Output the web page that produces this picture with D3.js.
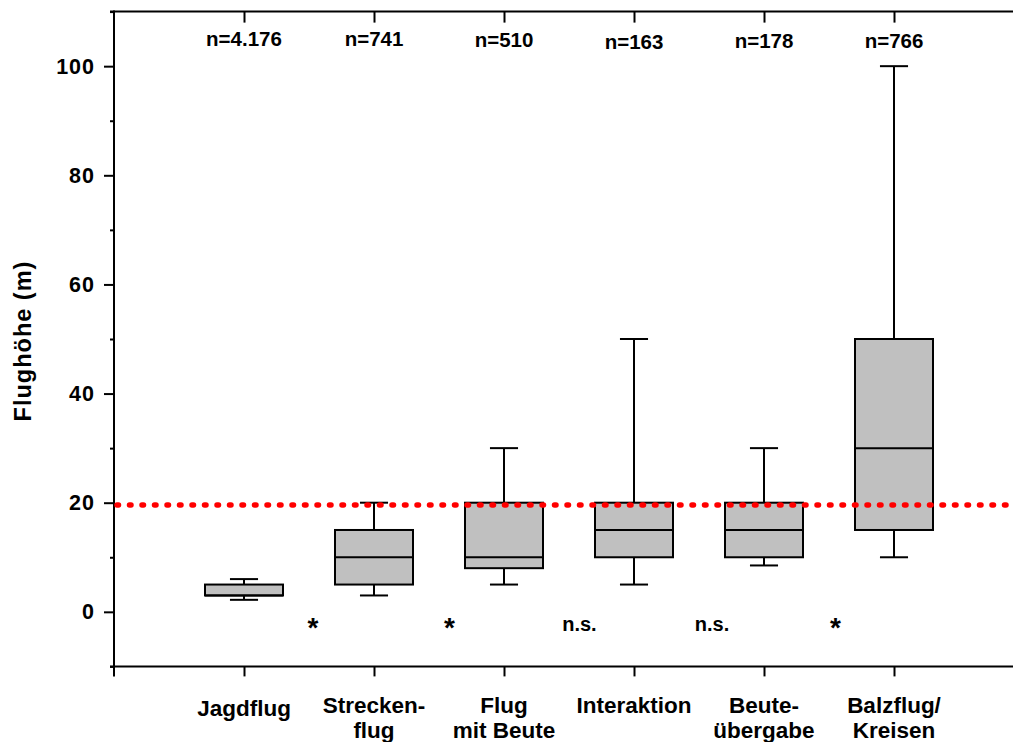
<!DOCTYPE html>
<html><head><meta charset="utf-8">
<script src="https://cdn.jsdelivr.net/npm/d3@7"></script>
<style>
html,body{margin:0;padding:0;background:#fff;}
svg text{font-family:Arial,"Liberation Sans",sans-serif;font-weight:bold;fill:#000;}
</style></head>
<body>
<svg id="c" width="1013" height="742"></svg>
<script>
const categories = [["Jagdflug"],["Strecken-","flug"],["Flug","mit Beute"],["Interaktion"],["Beute-","übergabe"],["Balzflug/","Kreisen"]];
const nLabels = ["n=4.176","n=741","n=510","n=163","n=178","n=766"];
const whiskerLow = [2.2, 3, 5, 5, 8.5, 10];
const q1 = [3, 5, 8, 10, 10, 15];
const median = [3, 10, 10, 15, 15, 30];
const q3 = [5, 15, 20, 20, 20, 50];
const whiskerHigh = [6, 20, 30, 50, 30, 100];
const sigLabels = ["*","*","n.s.","n.s.","*"];
const sigPos = [1.53, 2.58, 3.58, 4.6, 5.55];
const threshold = 19.6;
const yMajor = [0,20,40,60,80,100];
const yMinor = [-10,10,30,50,70,90,110];

const svg = d3.select("#c");
const x = d3.scaleLinear().domain([0,7]).range([114,1024]);
const y = d3.scaleLinear().domain([-10,110]).range([666.4,11.6]);
const stroke = 2;

// y axis major
const gy = svg.append("g").attr("transform",`translate(${x(0)},0)`)
  .call(d3.axisLeft(y).tickValues(yMajor).tickSize(10).tickPadding(10).tickFormat(d3.format("d")));
gy.select(".domain").remove();
gy.selectAll("line").attr("stroke","#000").attr("stroke-width",stroke);
gy.selectAll("text").attr("font-size",21.5).attr("dx",1).style("letter-spacing","1px");
const gym = svg.append("g").attr("transform",`translate(${x(0)},0)`)
  .call(d3.axisLeft(y).tickValues(yMinor).tickSize(4).tickFormat(""));
gym.select(".domain").remove();
gym.selectAll("line").attr("stroke","#000").attr("stroke-width",stroke);

// frame lines (left, bottom, top)
svg.append("line").attr("x1",x(0)).attr("x2",x(0)).attr("y1",y(110)-1).attr("y2",y(-10)+10)
  .attr("stroke","#000").attr("stroke-width",stroke);
svg.append("line").attr("x1",x(0)-4).attr("x2",x(7)).attr("y1",y(-10)).attr("y2",y(-10))
  .attr("stroke","#000").attr("stroke-width",stroke);
svg.append("line").attr("x1",x(0)-4).attr("x2",x(7)).attr("y1",y(110)).attr("y2",y(110))
  .attr("stroke","#000").attr("stroke-width",stroke);

const idx = d3.range(categories.length);
// bottom ticks
const gx = svg.append("g").attr("transform",`translate(0,${y(-10)})`)
  .call(d3.axisBottom(x).tickValues(idx.map(i=>i+1)).tickSize(10).tickFormat(""));
gx.select(".domain").remove();
gx.selectAll("line").attr("stroke","#000").attr("stroke-width",stroke);
// top ticks
const gt = svg.append("g").attr("transform",`translate(0,${y(110)})`)
  .call(d3.axisTop(x).tickValues(idx.map(i=>i+1)).tickSize(-11).tickFormat(""));
gt.select(".domain").remove();
gt.selectAll("line").attr("stroke","#000").attr("stroke-width",stroke);

// category labels
idx.forEach(i=>{
  const t = svg.append("text").attr("text-anchor","middle").attr("font-size",22.5)
    .attr("x",x(i+1)).attr("y",i===0?716:713);
  categories[i].forEach((s,k)=>{
    t.append("tspan").attr("x",x(i+1)).attr("dy",k===0?0:25).text(s);
  });
});

// n labels
svg.selectAll("text.n").data(nLabels).enter().append("text").attr("class","n")
  .attr("text-anchor","middle").attr("font-size",20.5)
  .attr("x",(d,i)=>x(i+1)).attr("y",(d,i)=>[46,46,47,49,48,48][i]).text(d=>d);

// y title
svg.append("text").attr("transform",`translate(31,341) rotate(-90)`)
  .attr("text-anchor","middle").attr("font-size",23.5).style("letter-spacing","1px").text("Flughöhe (m)");

// boxes
const bw = 0.3, cw = 0.108;
const g = svg.append("g");
idx.forEach(i=>{
  const c = i+1;
  const bg = g.append("g");
  bg.append("line").attr("x1",x(c)).attr("x2",x(c)).attr("y1",y(whiskerHigh[i])).attr("y2",y(q3[i]));
  bg.append("line").attr("x1",x(c)).attr("x2",x(c)).attr("y1",y(q1[i])).attr("y2",y(whiskerLow[i]));
  bg.append("line").attr("x1",x(c-cw)).attr("x2",x(c+cw)).attr("y1",y(whiskerHigh[i])).attr("y2",y(whiskerHigh[i]));
  bg.append("line").attr("x1",x(c-cw)).attr("x2",x(c+cw)).attr("y1",y(whiskerLow[i])).attr("y2",y(whiskerLow[i]));
  bg.append("rect").attr("x",x(c-bw)).attr("width",x(c+bw)-x(c-bw))
    .attr("y",y(q3[i])).attr("height",y(q1[i])-y(q3[i])).attr("fill","#c0c0c0");
  bg.append("line").attr("x1",x(c-bw)).attr("x2",x(c+bw)).attr("y1",y(median[i])).attr("y2",y(median[i]));
  bg.selectAll("line,rect").attr("stroke","#000").attr("stroke-width",stroke);
});

// red threshold
svg.append("line").attr("x1",x(0)+3).attr("x2",1013).attr("y1",y(threshold)).attr("y2",y(threshold))
  .attr("stroke","#ff0000").attr("stroke-width",5.5).attr("stroke-linecap","round")
  .attr("stroke-dasharray","1.5 11");

// significance labels
svg.selectAll("text.sig").data(sigLabels).enter().append("text").attr("class","sig")
  .attr("text-anchor","middle")
  .attr("font-size",d=>d==="*"?28:20)
  .attr("x",(d,i)=>x(sigPos[i]))
  .attr("y",d=>d==="*"?y(-4.7):y(-3.5))
  .text(d=>d);
</script>
</body></html>
